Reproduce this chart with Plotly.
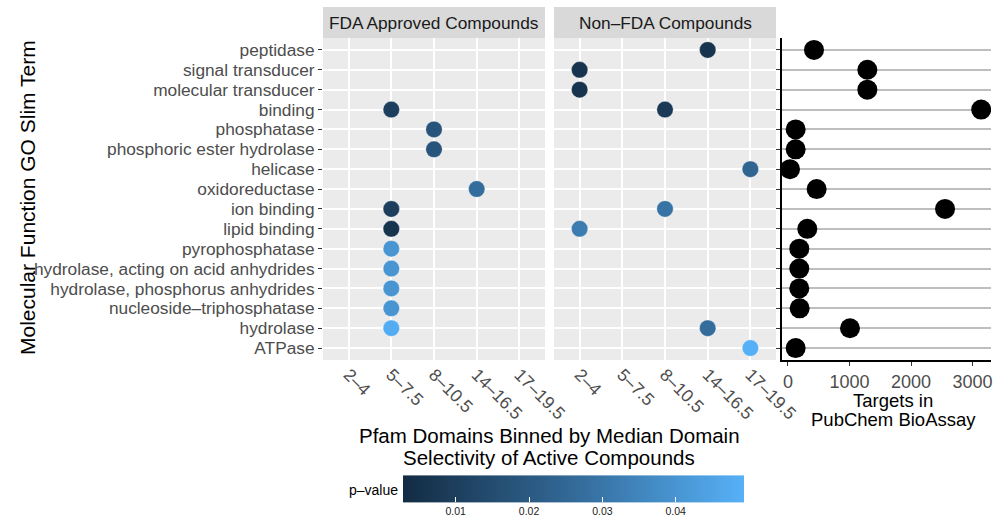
import plotly.graph_objects as go

# ---------------- data ----------------
terms = ["peptidase", "signal transducer", "molecular transducer", "binding",
         "phosphatase", "phosphoric ester hydrolase", "helicase", "oxidoreductase",
         "ion binding", "lipid binding", "pyrophosphatase",
         "hydrolase, acting on acid anhydrides", "hydrolase, phosphorus anhydrides",
         "nucleoside–triphosphatase", "hydrolase", "ATPase"]
bins = ["2–4", "5–7.5", "8–10.5", "14–16.5", "17–19.5"]

fda_terms = ["binding", "phosphatase", "phosphoric ester hydrolase", "oxidoreductase",
             "ion binding", "lipid binding", "pyrophosphatase",
             "hydrolase, acting on acid anhydrides", "hydrolase, phosphorus anhydrides",
             "nucleoside–triphosphatase", "hydrolase"]
fda_bins = ["5–7.5", "8–10.5", "8–10.5", "14–16.5", "5–7.5", "5–7.5", "5–7.5",
            "5–7.5", "5–7.5", "5–7.5", "5–7.5"]
fda_p = [0.010, 0.018, 0.018, 0.027, 0.010, 0.006, 0.040, 0.040, 0.040, 0.040, 0.048]

nonfda_terms = ["peptidase", "signal transducer", "molecular transducer", "binding",
                "helicase", "ion binding", "lipid binding", "hydrolase", "ATPase"]
nonfda_bins = ["14–16.5", "2–4", "2–4", "8–10.5", "17–19.5", "8–10.5", "2–4",
               "14–16.5", "17–19.5"]
nonfda_p = [0.006, 0.006, 0.006, 0.008, 0.024, 0.029, 0.032, 0.027, 0.049]

targets = [423, 1290, 1290, 3140, 125, 125, 33, 466, 2553, 314, 184, 184, 184, 190, 1008, 125]

colorbar_ticks = [0.01, 0.02, 0.03, 0.04]

# ---------------- geometry helpers ----------------
W, H = 1008, 523
def px(x):
    return x / W
def py(y):
    return 1 - y / H

FONT = "Liberation Sans, Arial, Helvetica, sans-serif"
ydom = [py(360), py(38)]
cat_rev = list(reversed(terms))

fig = go.Figure()

dot_line = dict(color="rgba(255,255,255,0.35)", width=1)
fig.add_trace(go.Scatter(
    x=fda_bins, y=fda_terms, mode="markers", xaxis="x", yaxis="y",
    marker=dict(size=16.5, color=fda_p, coloraxis="coloraxis", line=dot_line),
    showlegend=False, hoverinfo="skip"))
fig.add_trace(go.Scatter(
    x=nonfda_bins, y=nonfda_terms, mode="markers", xaxis="x2", yaxis="y2",
    marker=dict(size=16.5, color=nonfda_p, coloraxis="coloraxis", line=dot_line),
    showlegend=False, hoverinfo="skip"))
fig.add_trace(go.Scatter(
    x=targets, y=terms, mode="markers", xaxis="x3", yaxis="y3",
    marker=dict(size=20, color="black"),
    showlegend=False, hoverinfo="skip"))

tick_font = dict(family=FONT, size=17.3, color="#4D4D4D")
cat_x = dict(type="category", categoryorder="array", categoryarray=bins,
             tickmode="array", tickvals=bins, automargin=False,
             range=[-0.6, 4.6], showgrid=True, gridcolor="white", gridwidth=1.5,
             zeroline=False, showline=False, ticks="", tickangle=45,
             tickfont=dict(family=FONT, size=17.5, color="#4D4D4D"))
cat_y = dict(type="category", categoryorder="array", categoryarray=cat_rev,
             tickmode="array", tickvals=terms, automargin=False,
             range=[-0.6, 15.6], domain=ydom, showgrid=True, gridcolor="white",
             gridwidth=1.5, zeroline=False, showline=False)

fig.update_layout(
    width=W, height=H, autosize=False,
    margin=dict(l=0, r=0, t=0, b=0, autoexpand=False),
    paper_bgcolor="white", plot_bgcolor="white",
    font=dict(family=FONT, color="#1A1A1A"),
    xaxis=dict(cat_x, domain=[px(323), px(545)], anchor="y"),
    yaxis=dict(cat_y, anchor="x", ticks="outside", ticklen=4, tickwidth=1,
               tickcolor="#333333", tickfont=tick_font),
    xaxis2=dict(cat_x, domain=[px(554), px(776)], anchor="y2"),
    yaxis2=dict(cat_y, anchor="x2", showticklabels=False, ticks=""),
    xaxis3=dict(domain=[px(782), px(991)], anchor="y3", range=[-97, 3300],
                tickvals=[0, 1000, 2000, 3000], ticks="outside", ticklen=4,
                tickcolor="#333333", showline=True, linecolor="black", linewidth=2,
                showgrid=False, zeroline=False, automargin=False,
                tickfont=dict(family=FONT, size=18, color="#4D4D4D")),
    yaxis3=dict(type="category", categoryorder="array", categoryarray=cat_rev,
                tickmode="array", tickvals=terms, automargin=False,
                range=[-0.6, 15.6], domain=ydom, anchor="x3", showticklabels=False,
                ticks="outside", ticklen=4, tickcolor="#333333",
                showline=True, linecolor="black", linewidth=2,
                showgrid=True, gridcolor="#BEBEBE", gridwidth=2, zeroline=False),
    coloraxis=dict(
        colorscale=[[0, "#132B43"], [0.5, "#336A98"], [1, "#56B1F7"]],
        cmin=0.0028, cmax=0.0493,
        colorbar=dict(orientation="h", x=px(573.4), xanchor="center",
                      y=0.0, yanchor="bottom", len=341 / W, lenmode="fraction",
                      thickness=27, xpad=0, ypad=0, outlinewidth=0,
                      tickvals=colorbar_ticks,
                      ticktext=[f"{v:.2f}" for v in colorbar_ticks],
                      ticks="inside", ticklen=5, tickcolor="white", tickwidth=1,
                      tickfont=dict(family=FONT, size=10.5, color="#1A1A1A")),
    ),
)

# panel backgrounds and strips
shapes = []
for xr, yr in [("x", "y"), ("x2", "y2")]:
    shapes.append(dict(type="rect", xref=f"{xr} domain", yref=f"{yr} domain",
                       x0=0, x1=1, y0=0, y1=1, fillcolor="#EBEBEB",
                       line=dict(width=0), layer="below"))
    shapes.append(dict(type="rect", xref=f"{xr} domain", yref="paper",
                       x0=0, x1=1, y0=py(38), y1=py(7), fillcolor="#D9D9D9",
                       line=dict(width=0), layer="below"))
fig.update_layout(shapes=shapes)

ann = []
def add_text(text, x, y, size, color="#1A1A1A", angle=0, xanchor="center"):
    ann.append(dict(text=text, x=px(x), y=py(y), xref="paper", yref="paper",
                    showarrow=False, xanchor=xanchor, yanchor="middle",
                    textangle=angle, font=dict(family=FONT, size=size, color=color)))

add_text("FDA Approved Compounds", 434, 23, 17.3)
add_text("Non–FDA Compounds", 665, 23, 17.3)
add_text("Molecular Function GO Slim Term", 28, 198, 21, color="black", angle=-90)
add_text("Pfam Domains Binned by Median Domain", 549, 435, 20.5, color="black")
add_text("Selectivity of Active Compounds", 549, 457, 20.5, color="black")
add_text("Targets in", 893, 400, 18.5, color="black")
add_text("PubChem BioAssay", 893, 419, 18.5, color="black")
add_text("p–value", 400, 490, 14, color="black", xanchor="right")
fig.update_layout(annotations=ann)

post = ("document.body.style.margin='0';"
        "document.body.style.overflow='hidden';")
fig.write_html("out.html", post_script=post, config={"displayModeBar": False})
